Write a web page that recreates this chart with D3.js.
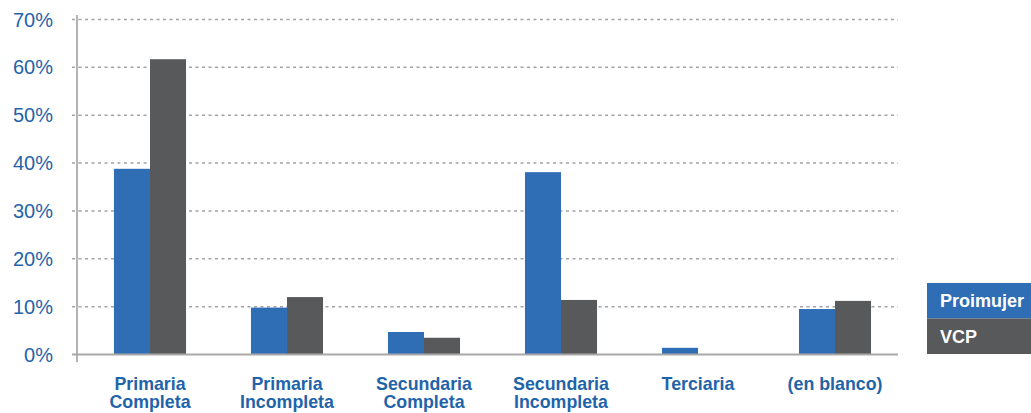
<!DOCTYPE html>
<html><head><meta charset="utf-8">
<script src="https://cdn.jsdelivr.net/npm/d3@7"></script>
<style>body{margin:0;background:#fff;}svg{display:block;font-family:"Liberation Sans",Arial,sans-serif;}</style>
</head><body>
<svg id="c" width="1031" height="413"></svg>
<script>
const categories = [["Primaria","Completa"],["Primaria","Incompleta"],["Secundaria","Completa"],["Secundaria","Incompleta"],["Terciaria"],["(en blanco)"]];
const seriesNames = ["Proimujer","VCP"];
const proimujer = [38.8, 9.8, 4.7, 38.1, 1.4, 9.5];
const vcp = [61.7, 12.0, 3.5, 11.4, 0, 11.2];
const yTicks = [0,10,20,30,40,50,60,70];
const colors = ["#2f6db4","#58595b"];

const svg = d3.select("#c");
const x = d3.scaleBand().domain(d3.range(categories.length)).range([81.5, 903.5]).paddingInner(0.474).paddingOuter(0.237);
const xs = d3.scaleBand().domain([0,1]).range([0, x.bandwidth()]);
const y = d3.scaleLinear().domain([0,70]).range([354.5, 19.5]);

// gridlines
svg.append("g").selectAll("line").data(yTicks.filter(t=>t>0)).join("line")
  .attr("x1",72).attr("x2",898).attr("y1",d=>y(d)).attr("y2",d=>y(d))
  .attr("stroke","#a3a3a3").attr("stroke-width",1.5).attr("stroke-dasharray","3,3.5");

// y labels
svg.append("g").selectAll("text").data(yTicks).join("text")
  .attr("x",53).attr("y",d=>y(d)+7).attr("text-anchor","end")
  .attr("font-size",20).attr("fill","#1f64aa").text(d=>d+"%");

// bars
const series = [proimujer, vcp];
series.forEach((vals,si)=>{
  svg.append("g").selectAll("rect").data(vals).join("rect")
    .attr("x",(d,i)=>x(i)+xs(si)).attr("width",xs.bandwidth())
    .attr("y",d=>y(d)).attr("height",d=>y(0)-y(d)).attr("fill",colors[si]);
});

// axes
svg.append("line").attr("x1",77).attr("x2",77).attr("y1",15).attr("y2",362).attr("stroke","#9a9a9a").attr("stroke-width",1.5);
svg.append("line").attr("x1",72).attr("x2",898).attr("y1",354.5).attr("y2",354.5).attr("stroke","#a8a8a8").attr("stroke-width",2);

// category labels
const cl = svg.append("g").selectAll("text").data(categories).join("text")
  .attr("text-anchor","middle").attr("font-size",17.8).attr("font-weight","bold").attr("fill","#1f64aa")
  .attr("transform",(d,i)=>`translate(${x(i)+x.bandwidth()/2},389.5)`);
cl.selectAll("tspan").data(d=>d).join("tspan").attr("x",0).attr("dy",(d,i)=>i?18.5:0).text(d=>d);

// legend
const lg = svg.append("g").attr("transform","translate(927,283)");
seriesNames.forEach((n,i)=>{
  lg.append("rect").attr("x",0).attr("y",i*35.5).attr("width",110).attr("height",35.5).attr("fill",colors[i]);
  lg.append("text").attr("x",13).attr("y",i*35.5+24).attr("fill","#fff").attr("font-size",18).attr("font-weight","bold").text(n);
});
</script>
</body></html>
